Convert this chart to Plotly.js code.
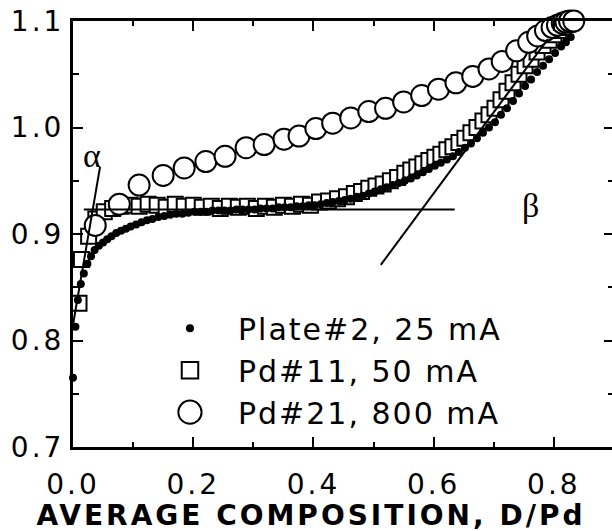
<!DOCTYPE html>
<html>
<head>
<meta charset="utf-8">
<script src="https://cdn.plot.ly/plotly-3.0.1.min.js"></script>
<style>
  html, body { margin: 0; padding: 0; overflow: hidden; background: #fff; }
  #chart { width: 614px; height: 531px; }
  .xtick text, .ytick text { letter-spacing: 3px; }
  .legendtext { letter-spacing: 2px; }
</style>
</head>
<body>
<div id="chart"></div>
<script>
// Plate#2, 25 mA (filled dots)
const plateX = [0.000,0.004,0.008,0.013,0.018,0.024,0.030,0.036,0.043,0.050,0.057,0.064,0.072,0.080,0.088,0.096,0.105,0.114,0.123,0.132,0.142,0.152,0.162,0.172,0.182,0.192,0.202,0.212,0.222,0.232,0.242,0.252,0.262,0.272,0.282,0.292,0.302,0.312,0.322,0.332,0.342,0.352,0.362,0.372,0.382,0.392,0.402,0.412,0.422,0.432,0.442,0.452,0.462,0.472,0.482,0.492,0.502,0.512,0.522,0.532,0.542,0.552,0.562,0.572,0.582,0.592,0.602,0.612,0.622,0.632,0.642,0.652,0.662,0.672,0.682,0.692,0.702,0.712,0.722,0.732,0.742,0.752,0.762,0.772,0.782,0.792,0.802,0.812,0.820,0.828];
const plateY = [0.765,0.813,0.838,0.853,0.863,0.872,0.879,0.885,0.889,0.892,0.895,0.898,0.901,0.903,0.905,0.907,0.909,0.911,0.913,0.914,0.916,0.917,0.918,0.919,0.919,0.920,0.921,0.921,0.921,0.922,0.922,0.922,0.922,0.923,0.923,0.923,0.923,0.924,0.924,0.924,0.925,0.925,0.925,0.926,0.926,0.927,0.927,0.928,0.929,0.930,0.931,0.932,0.933,0.935,0.936,0.938,0.940,0.942,0.944,0.946,0.948,0.950,0.952,0.955,0.958,0.961,0.964,0.967,0.970,0.973,0.977,0.981,0.985,0.990,0.995,1.000,1.005,1.012,1.018,1.025,1.032,1.039,1.045,1.052,1.058,1.064,1.070,1.076,1.080,1.085];

// Pd#11, 50 mA (open squares)
const pd11X = [0.010,0.014,0.026,0.038,0.052,0.066,0.080,0.095,0.110,0.125,0.140,0.155,0.170,0.185,0.200,0.215,0.230,0.245,0.260,0.275,0.290,0.305,0.320,0.335,0.350,0.365,0.380,0.395,0.410,0.425,0.440,0.455,0.468,0.480,0.492,0.504,0.516,0.528,0.540,0.552,0.562,0.572,0.582,0.592,0.602,0.612,0.622,0.632,0.642,0.652,0.662,0.672,0.682,0.692,0.702,0.712,0.722,0.732,0.742,0.752,0.762,0.772,0.782,0.792,0.800,0.808,0.815,0.822,0.828];
const pd11Y = [0.835,0.876,0.898,0.914,0.921,0.924,0.926,0.927,0.926,0.928,0.927,0.925,0.928,0.926,0.927,0.925,0.926,0.924,0.926,0.925,0.926,0.924,0.926,0.925,0.927,0.926,0.928,0.927,0.930,0.931,0.933,0.935,0.938,0.940,0.943,0.945,0.947,0.950,0.953,0.957,0.960,0.963,0.966,0.969,0.972,0.975,0.979,0.982,0.986,0.990,0.995,1.000,1.006,1.012,1.018,1.026,1.034,1.042,1.050,1.058,1.064,1.071,1.077,1.082,1.087,1.091,1.094,1.097,1.099];

// Pd#21, 800 mA (open circles)
const pd21X = [0.037,0.077,0.110,0.150,0.185,0.221,0.253,0.288,0.318,0.351,0.376,0.404,0.432,0.462,0.492,0.520,0.550,0.580,0.608,0.637,0.665,0.692,0.714,0.738,0.758,0.773,0.786,0.797,0.806,0.814,0.820,0.826,0.833];
const pd21Y = [0.908,0.928,0.946,0.955,0.962,0.968,0.973,0.981,0.984,0.989,0.992,0.999,1.004,1.009,1.015,1.018,1.024,1.030,1.036,1.042,1.048,1.055,1.062,1.072,1.080,1.086,1.091,1.094,1.096,1.098,1.099,1.100,1.100];

// Construction lines
const alphaLineX = [-0.006, 0.045];
const alphaLineY = [0.795, 0.963];
const plateauLineX = [0.018, 0.635];
const plateauLineY = [0.923, 0.923];
const betaLineX = [0.512, 0.79];
const betaLineY = [0.871, 1.083];

// Labels
const seriesNames = ['Plate#2, 25 mA', 'Pd#11, 50 mA', 'Pd#21, 800 mA'];
const phaseLabels = ['α', 'β'];
const phaseLabelX = [0.032, 0.761];
const phaseLabelY = [0.974, 0.927];
const xAxisTitle = 'AVERAGE COMPOSITION, D/Pd';

const xTickVals = [0.0, 0.2, 0.4, 0.6, 0.8];
const xTickText = ['0.0', '0.2', '0.4', '0.6', '0.8'];
const yTickVals = [0.7, 0.8, 0.9, 1.0, 1.1];
const yTickText = ['0.7', '0.8', '0.9', '1.0', '1.1'];

const lineStyle = {color: '#000', width: 2};

const traces = [
  {x: pd11X, y: pd11Y, name: seriesNames[1], type: 'scatter', mode: 'markers', legendrank: 2, legendgroup: 'b',
   cliponaxis: false,
   marker: {symbol: 'square', size: 15, color: '#fff', line: {color: '#000', width: 2}}},
  {x: plateX, y: plateY, name: seriesNames[0], type: 'scatter', mode: 'markers', legendrank: 1, legendgroup: 'a',
   cliponaxis: false,
   marker: {symbol: 'circle', size: 8, color: '#000', line: {width: 0}}},
  {x: pd21X, y: pd21Y, name: seriesNames[2], type: 'scatter', mode: 'markers', legendrank: 3, legendgroup: 'c',
   cliponaxis: false,
   marker: {symbol: 'circle', size: 21, color: '#fff', line: {color: '#000', width: 2}}},
  {x: alphaLineX, y: alphaLineY, type: 'scatter', mode: 'lines', line: lineStyle, showlegend: false, hoverinfo: 'skip'},
  {x: plateauLineX, y: plateauLineY, type: 'scatter', mode: 'lines', line: lineStyle, showlegend: false, hoverinfo: 'skip'},
  {x: betaLineX, y: betaLineY, type: 'scatter', mode: 'lines', line: lineStyle, showlegend: false, hoverinfo: 'skip'}
];

const annotations = phaseLabels.map((t, i) => ({
  x: phaseLabelX[i], y: phaseLabelY[i], xref: 'x', yref: 'y', text: t, showarrow: false,
  font: {family: 'Liberation Serif, Times New Roman, serif', size: 34, color: '#000'}
}));
annotations.push({
  x: 0.44, y: -0.16, xref: 'paper', yref: 'paper', xanchor: 'center', yanchor: 'middle',
  text: xAxisTitle, showarrow: false,
  font: {family: 'DejaVu Sans, Verdana, sans-serif', size: 28, weight: 'bold', color: '#000'}
});

const axisCommon = {
  showline: true, linecolor: '#000', linewidth: 3, mirror: 'ticks',
  ticks: 'inside', tickcolor: '#000', tickwidth: 2, ticklen: 10,
  showgrid: false, zeroline: false, fixedrange: true,
  tickfont: {family: 'DejaVu Sans, Verdana, sans-serif', size: 28, color: '#000'}
};

const layout = {
  width: 614, height: 531,
  margin: {l: 73, r: 0, t: 21, b: 84},
  paper_bgcolor: '#fff', plot_bgcolor: '#fff',
  showlegend: true,
  legend: {x: 0.1275, y: 0.340, xanchor: 'left', yanchor: 'top', bgcolor: 'rgba(0,0,0,0)',
           font: {family: 'DejaVu Sans, Verdana, sans-serif', size: 30, color: '#000'},
           traceorder: 'normal', tracegroupgap: 3, itemwidth: 86},
  xaxis: Object.assign({}, axisCommon, {
    range: [0, 0.9], tickmode: 'array', tickvals: xTickVals, ticktext: xTickText,
    ticklabelstandoff: 10,
    minor: {dtick: 0.1, tick0: 0, ticks: 'inside', ticklen: 5, tickwidth: 2, tickcolor: '#000'}
  }),
  yaxis: Object.assign({}, axisCommon, {
    range: [0.7, 1.1], tickmode: 'array', tickvals: yTickVals, ticktext: yTickText,
    minor: {dtick: 0.05, tick0: 0.7, ticks: 'inside', ticklen: 6, tickwidth: 2, tickcolor: '#000'}
  }),
  annotations: annotations
};

function tweak() {
  // x-title letter spacing
  document.querySelectorAll('.annotation-text').forEach(el => {
    if (el.textContent === xAxisTitle) el.style.letterSpacing = '3px';
  });
  // enlarge legend symbols (Plotly caps legend marker size at 16px)
  const groups = document.querySelectorAll('.legend .traces');
  groups.forEach(g => {
    const txt = g.querySelector('.legendtext');
    const pt = g.querySelector('path.scatterpts');
    if (!txt || !pt || pt.dataset.scaled) return;
    let s = 1;
    if (txt.textContent === seriesNames[2]) s = 1.45;
    else if (txt.textContent === seriesNames[1]) s = 1.1;
    else if (txt.textContent === seriesNames[0]) s = 1.0;
    const tr = pt.getAttribute('transform') || '';
    pt.setAttribute('transform', tr + ' scale(' + s + ')');
    const sw = parseFloat(pt.style.strokeWidth || '0');
    if (sw) pt.style.strokeWidth = (sw / s) + 'px';
    pt.dataset.scaled = '1';
  });
}

Plotly.newPlot('chart', traces, layout, {displayModeBar: false, staticPlot: true}).then(tweak);
</script>
</body>
</html>
